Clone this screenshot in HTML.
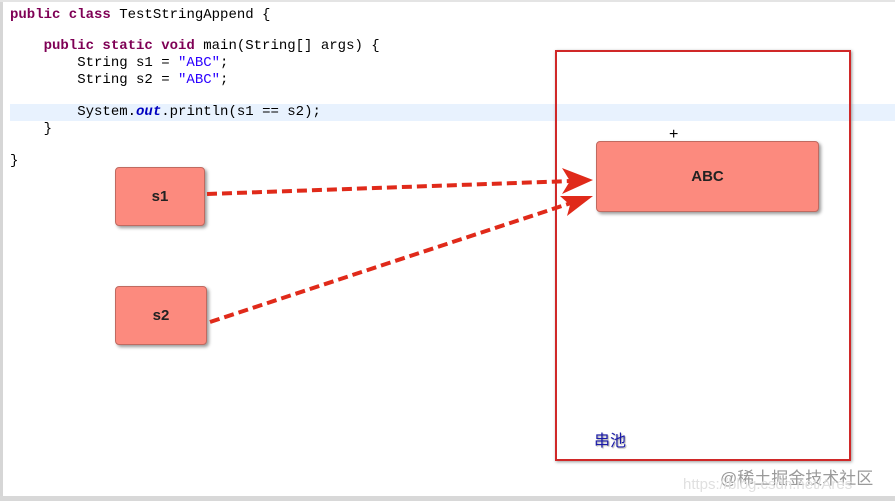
<!DOCTYPE html>
<html><head><meta charset="utf-8"><style>
body{margin:0;width:895px;height:501px;background:#fff;position:relative;overflow:hidden;font-family:"Liberation Sans",sans-serif}
.code{position:absolute;left:10px;font-family:"Liberation Mono",monospace;font-size:14px;color:#000;white-space:pre;line-height:17px}
.k{color:#7f0055;font-weight:bold}.s{color:#2a00ff}.o{color:#0000c0;font-weight:bold;font-style:italic}
.box{position:absolute;background:#fc8a7e;border:1px solid #c06a60;border-radius:4px;box-shadow:2px 2px 3px #999;font-weight:bold;font-size:15px;display:flex;align-items:center;justify-content:center;color:#222}
</style></head><body>
<div style="position:absolute;left:0;top:0;width:3px;height:501px;background:#d6d6d6"></div>
<div style="position:absolute;left:0;top:0;width:895px;height:2px;background:#e4e4e4"></div>
<div style="position:absolute;left:0;top:496px;width:895px;height:5px;background:#d8d8d8"></div>
<div style="position:absolute;left:10px;top:104px;width:885px;height:17px;background:#e8f2fe"></div>
<div class="code" style="top:7px"><span class="k">public class</span> TestStringAppend {</div>
<div class="code" style="top:38px">    <span class="k">public static void</span> main(String[] args) {</div>
<div class="code" style="top:55px">        String s1 = <span class="s">"ABC"</span>;</div>
<div class="code" style="top:72px">        String s2 = <span class="s">"ABC"</span>;</div>
<div class="code" style="top:104px">        System.<span class="o">out</span>.println(s1 == s2);</div>
<div class="code" style="top:121px">    }</div>
<div class="code" style="top:153px">}</div>
<div style="position:absolute;left:555px;top:50px;width:292px;height:407px;border:2px solid #d02828;box-shadow:1px 1px 3px #999"></div>
<div class="box" style="left:115px;top:167px;width:88px;height:57px">s1</div>
<div class="box" style="left:115px;top:286px;width:90px;height:57px">s2</div>
<div class="box" style="left:596px;top:141px;width:221px;height:69px">ABC</div>
<div style="position:absolute;left:669px;top:126px;font-size:16px">+</div>
<svg style="position:absolute;left:0;top:0" width="895" height="501">
<g stroke="#e02a1a" stroke-width="4" stroke-dasharray="10,5" fill="none">
<line x1="207" y1="194" x2="572" y2="181"/>
<line x1="210" y1="322" x2="574" y2="202"/>
</g>
<path d="M593,180 L562,168 L570,181 L562,194 Z" fill="#e02a1a"/>
<path d="M593,196 L560,196 L570,205 L567,216 Z" fill="#e02a1a"/>
</svg>
<div style="position:absolute;left:594px;top:427px;font-size:16px;color:#1a1aa8;font-family:'Liberation Sans','Noto Sans CJK SC',sans-serif;text-shadow:1px 1px 1px #aaa">串池</div>
<div style="position:absolute;left:720px;top:464px;font-size:17px;color:#9a9a9a;font-family:'Liberation Sans','Noto Sans CJK SC',sans-serif">@稀土掘金技术社区</div>
<div style="position:absolute;left:683px;top:476px;font-size:15px;color:#e0e0e0">https://blog.csdn.net/Ares</div>
</body></html>
